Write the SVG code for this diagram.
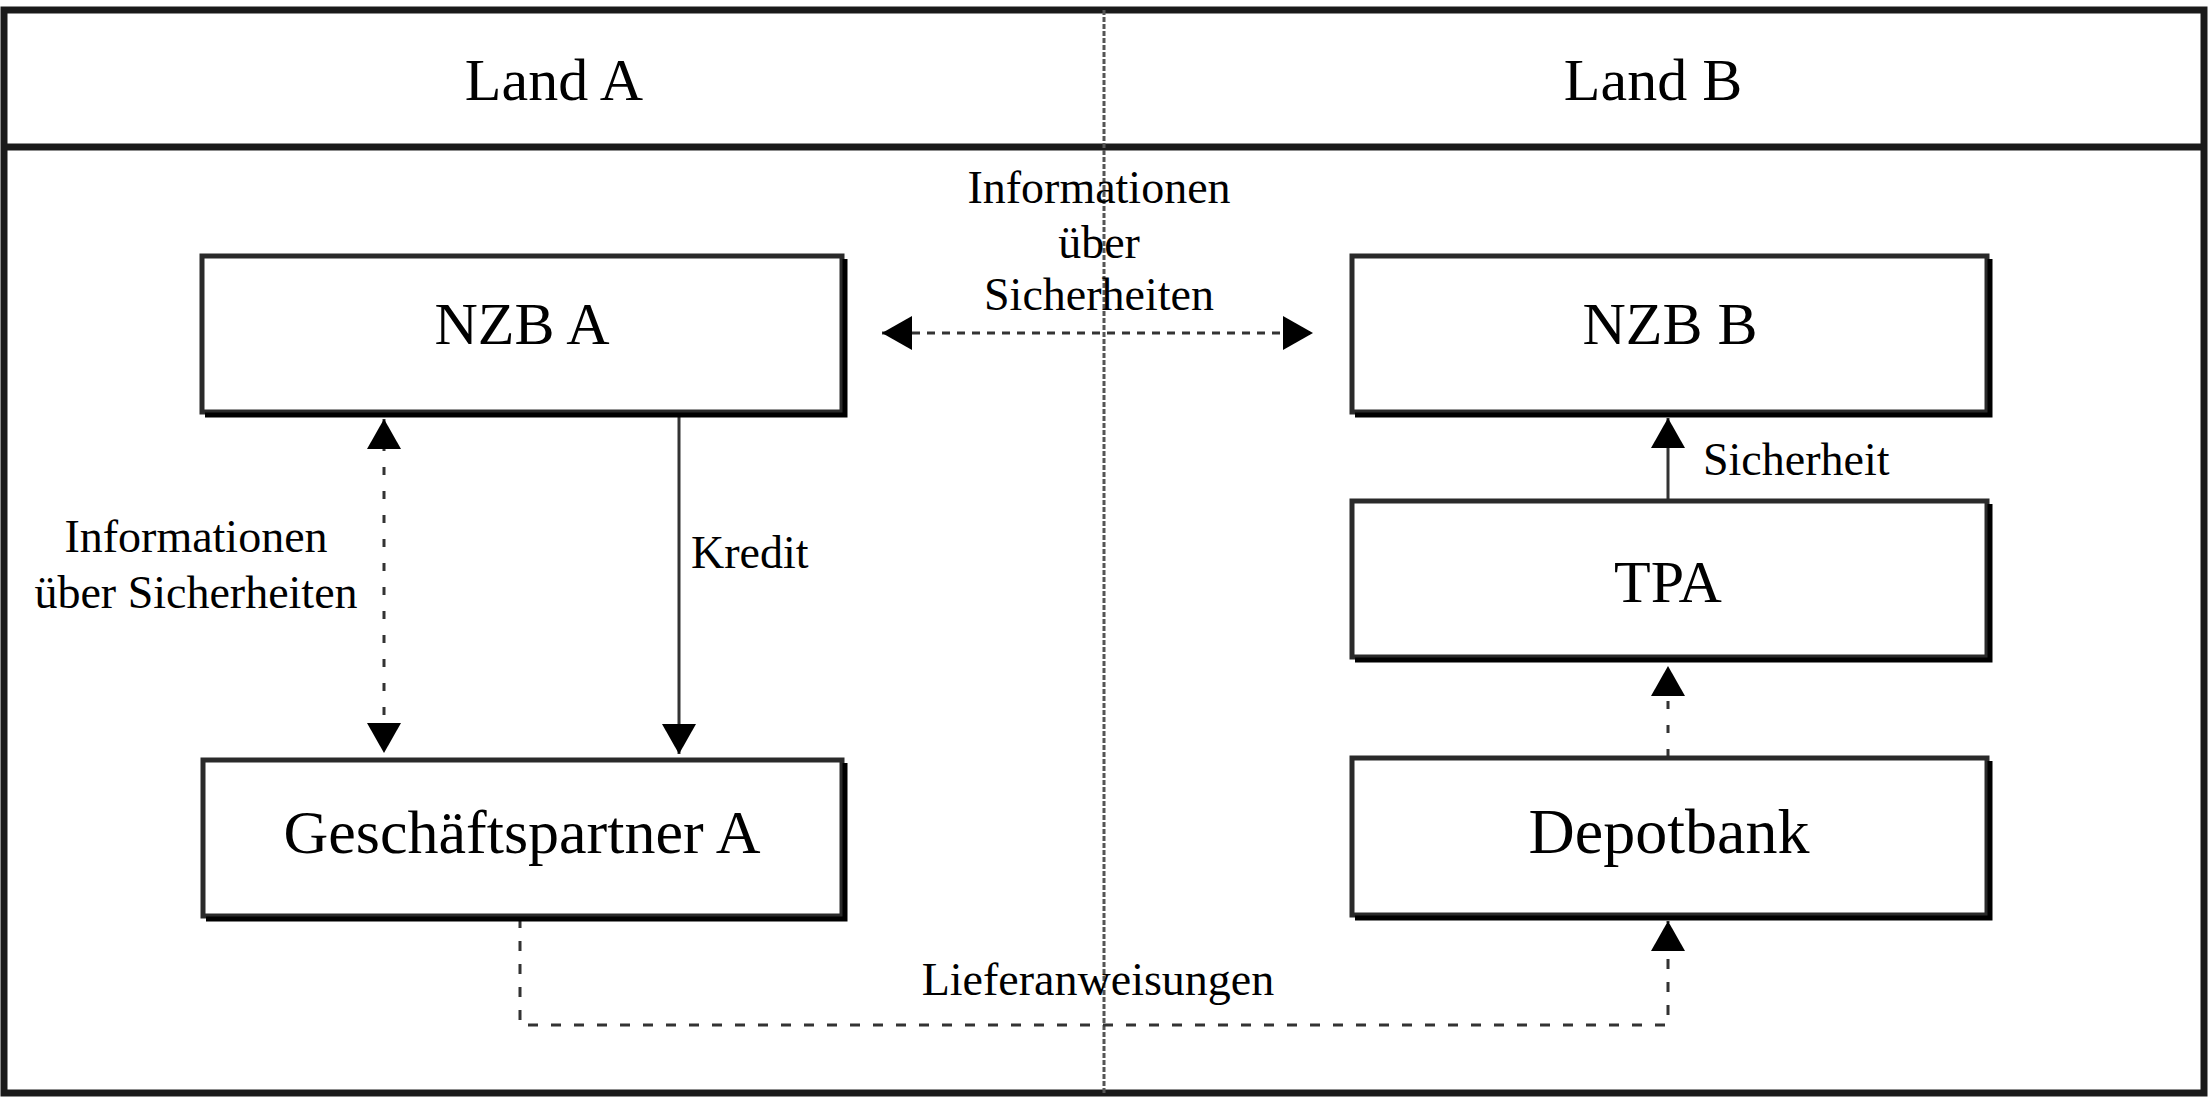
<svg xmlns="http://www.w3.org/2000/svg" width="2211" height="1099" viewBox="0 0 2211 1099">
<style>
  .frame{fill:none;stroke:#1a1a1a;stroke-width:7}
  .divider{stroke:#555;stroke-width:3;stroke-dasharray:5 2;fill:none}
  .box{fill:#fff;stroke:#2a2a2a;stroke-width:5}
  .shadow{fill:none;stroke:#000;stroke-width:5}
  .big{font-family:"Liberation Serif","Times New Roman",serif;font-size:60px;fill:#000;text-anchor:middle}
  .lbl{font-family:"Liberation Serif","Times New Roman",serif;font-size:46px;fill:#000}
  .solid{fill:none;stroke:#333;stroke-width:3}
  .dashv{fill:none;stroke:#333;stroke-width:3;stroke-dasharray:8 16}
  .dashh{fill:none;stroke:#333;stroke-width:3;stroke-dasharray:8 7}
  .dashl{fill:none;stroke:#333;stroke-width:3;stroke-dasharray:10 13}
</style>
<defs>
  <marker id="ah" markerUnits="userSpaceOnUse" markerWidth="32" markerHeight="36" refX="30" refY="17" orient="auto-start-reverse" viewBox="0 0 32 36">
    <path d="M0,0 L30,17 L0,34 z" fill="#000"/>
  </marker>
</defs>
<rect width="2211" height="1099" fill="#fff"/>
<g id="frame">
  <rect class="frame" x="4" y="10" width="2200" height="1083"/>
  <line x1="4" y1="147" x2="2204" y2="147" stroke="#1a1a1a" stroke-width="7"/>
  <line class="divider" x1="1104" y1="10" x2="1104" y2="1093"/>
  <text class="big" x="554" y="100">Land A</text>
  <text class="big" x="1653" y="100">Land B</text>
</g>
<g id="connectors">
  <line class="dashh" x1="882" y1="333" x2="1313" y2="333" marker-start="url(#ah)" marker-end="url(#ah)"/>
  <text class="lbl" x="1099" y="203" text-anchor="middle">Informationen</text>
  <text class="lbl" x="1099" y="258" text-anchor="middle">über</text>
  <text class="lbl" x="1099" y="310" text-anchor="middle">Sicherheiten</text>
  <line class="dashv" x1="384" y1="419" x2="384" y2="753" marker-start="url(#ah)" marker-end="url(#ah)"/>
  <text class="lbl" x="196" y="552" text-anchor="middle">Informationen</text>
  <text class="lbl" x="196" y="608" text-anchor="middle">über Sicherheiten</text>
  <line class="solid" x1="679" y1="414" x2="679" y2="754" marker-end="url(#ah)"/>
  <text class="lbl" x="691" y="568">Kredit</text>
  <line class="solid" x1="1668" y1="500" x2="1668" y2="418" marker-end="url(#ah)"/>
  <text class="lbl" x="1703" y="475">Sicherheit</text>
  <line class="dashv" x1="1668" y1="757" x2="1668" y2="666" marker-end="url(#ah)"/>
  <path class="dashl" d="M520,918 V1025 H1668 V921" marker-end="url(#ah)"/>
  <text class="lbl" x="1098" y="995" text-anchor="middle">Lieferanweisungen</text>
</g>
<g id="nzb-a">
  <rect class="box" x="202" y="256" width="640" height="156"/>
  <path class="shadow" d="M845,259 V415 H205"/>
  <text class="big" x="522" y="344">NZB A</text>
</g>
<g id="nzb-b">
  <rect class="box" x="1352" y="256" width="635" height="156"/>
  <path class="shadow" d="M1990,259 V415 H1355"/>
  <text class="big" x="1670" y="344">NZB B</text>
</g>
<g id="tpa">
  <rect class="box" x="1352" y="501" width="635" height="156"/>
  <path class="shadow" d="M1990,504 V660 H1355"/>
  <text class="big" x="1668" y="602">TPA</text>
</g>
<g id="geschaeftspartner-a">
  <rect class="box" x="203" y="760" width="639" height="156"/>
  <path class="shadow" d="M845,763 V919 H206"/>
  <text class="big" x="522" y="853" style="font-size:62px">Geschäftspartner A</text>
</g>
<g id="depotbank">
  <rect class="box" x="1352" y="758" width="635" height="157"/>
  <path class="shadow" d="M1990,761 V918 H1355"/>
  <text class="big" x="1669" y="853" style="font-size:64px">Depotbank</text>
</g>
</svg>
